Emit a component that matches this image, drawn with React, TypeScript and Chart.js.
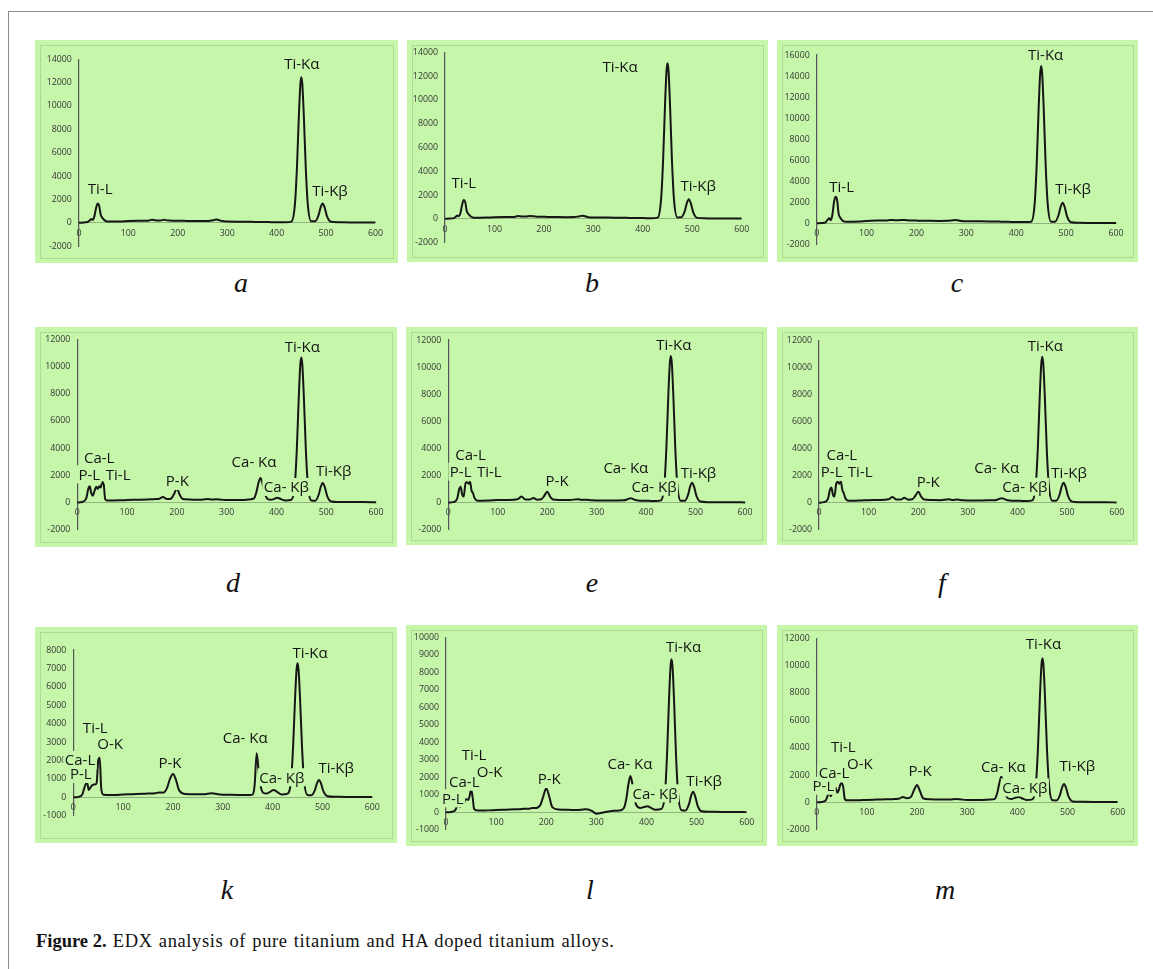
import React, { useEffect, useRef } from "react";
import { Chart, registerables } from "chart.js";
Chart.register(...registerables);

// Energy channel of every sample (shared by all nine spectra)
const channels = [
  0, 10, 18, 22, 25, 28, 31, 35, 38, 41, 44, 47, 50, 53, 56, 60, 70,
  85, 100, 120, 140, 148, 156, 165, 172, 180, 188, 194, 200, 206, 212, 225, 245, 262, 270, 278, 290, 300, 330, 345,
  355, 360, 364, 368, 372, 376, 381, 388, 395, 402, 409, 418, 430,
  437, 441, 445, 448, 450, 452, 455, 459, 463, 470, 478, 485, 489, 493, 497, 502, 510, 525, 550, 575, 600,
];

const countsA = [
  0, 30, 80, 200, 320, 250, 500, 1300, 1650, 1450, 700, 450, 300, 180, 120, 100, 100,
  110, 150, 170, 180, 260, 200, 200, 250, 200, 180, 170, 170, 160, 160, 150, 140, 150, 200, 280, 140, 110, 90, 80,
  70, 70, 70, 70, 60, 60, 60, 50, 50, 50, 40, 40, 100,
  1590, 4630, 9170, 11860, 12450, 11860, 9170, 4630, 1590, 120, 130, 680, 1320, 1650, 1320, 540, 80, 40, 30, 30, 20,
];
const countsB = [
  0, 20, 60, 180, 270, 220, 450, 1250, 1590, 1400, 650, 420, 280, 170, 110, 90, 90,
  100, 130, 150, 160, 230, 190, 200, 240, 210, 180, 170, 170, 160, 160, 150, 140, 150, 200, 260, 140, 110, 100, 90,
  80, 80, 80, 80, 70, 70, 70, 60, 60, 60, 50, 50, 100,
  1660, 4870, 9640, 12460, 13086, 12460, 9640, 4870, 1660, 120, 130, 670, 1320, 1646, 1320, 540, 80, 40, 30, 30, 20,
];
const countsC = [
  0, 30, 100, 350, 475, 300, 700, 2100, 2530, 2200, 900, 550, 350, 220, 170, 150, 160,
  180, 230, 260, 280, 330, 300, 300, 330, 300, 280, 270, 260, 250, 250, 240, 230, 240, 280, 330, 220, 200, 190, 180,
  170, 170, 170, 160, 160, 150, 150, 140, 130, 130, 120, 120, 160,
  1900, 5560, 11020, 14230, 14952, 14230, 11020, 5560, 1900, 150, 160, 820, 1570, 1960, 1570, 640, 100, 50, 40, 30, 30,
];
const countsD = [
  0, 40, 300, 1000, 1193, 700, 500, 900, 1150, 1000, 1200, 1100, 1500, 1350, 250, 150, 150,
  160, 180, 200, 220, 230, 250, 280, 400, 250, 280, 600, 1024, 550, 250, 220, 200, 250, 220, 230, 200, 180, 180, 220,
  300, 800, 1450, 1800, 1400, 750, 300, 200, 250, 350, 250, 150, 200,
  1350, 3960, 7850, 10140, 10656, 10140, 7850, 3960, 1350, 150, 130, 590, 1150, 1434, 1150, 470, 80, 40, 30, 30, 20,
];
const countsE = [
  0, 40, 300, 1000, 1181, 600, 450, 1450, 1500, 1400, 1550, 900, 700, 350, 200, 150, 150,
  170, 190, 200, 250, 450, 230, 230, 350, 220, 250, 500, 812, 450, 230, 200, 190, 260, 200, 220, 180, 170, 170, 170,
  180, 220, 280, 330, 300, 230, 180, 150, 140, 150, 130, 120, 170,
  1375, 4030, 7980, 10300, 10826, 10300, 7980, 4030, 1375, 150, 140, 600, 1180, 1476, 1180, 480, 80, 40, 30, 30, 20,
];
const countsF = [
  0, 40, 280, 950, 1130, 600, 450, 1450, 1550, 1400, 1568, 950, 700, 350, 200, 150, 150,
  170, 190, 200, 250, 420, 230, 230, 360, 220, 250, 500, 815, 450, 230, 200, 190, 250, 200, 230, 180, 170, 170, 180,
  180, 230, 290, 330, 300, 230, 180, 150, 140, 150, 130, 120, 170,
  1370, 4020, 7970, 10300, 10815, 10300, 7970, 4020, 1370, 150, 140, 610, 1185, 1481, 1185, 480, 80, 40, 30, 30, 20,
];
const countsK = [
  0, 20, 150, 500, 720, 761, 400, 550, 650, 700, 700, 800, 2000, 2150, 500, 150, 120,
  130, 150, 170, 190, 200, 210, 220, 260, 250, 500, 1000, 1266, 950, 400, 180, 160, 160, 190, 220, 160, 140, 130, 120,
  120, 150, 700, 2391, 1400, 600, 250, 200, 300, 397, 300, 150, 200,
  925, 2710, 5370, 6930, 7283, 6930, 5370, 2710, 925, 120, 110, 400, 760, 940, 760, 320, 60, 30, 20, 20, 10,
];
const countsL = [
  0, 20, 100, 350, 550, 300, 600, 450, 700, 750, 700, 900, 1314, 900, 200, 120, 100,
  110, 130, 150, 170, 180, 200, 200, 250, 250, 400, 900, 1371, 900, 300, 160, 140, 130, 150, 180, 100, -80, 80, 100,
  250, 800, 1600, 2074, 1600, 800, 350, 250, 300, 350, 250, 150, 200,
  1110, 3250, 6440, 8320, 8743, 8320, 6440, 3250, 1110, 120, 110, 480, 940, 1177, 940, 380, 60, 30, 20, 20, 10,
];
const countsM = [
  0, 30, 150, 500, 776, 450, 700, 1000, 1050, 700, 900, 1300, 1390, 1100, 250, 150, 150,
  160, 180, 200, 220, 230, 250, 280, 400, 300, 400, 900, 1266, 800, 300, 220, 200, 200, 220, 250, 200, 180, 180, 200,
  250, 700, 1400, 1874, 1450, 700, 300, 250, 330, 400, 300, 180, 220,
  1340, 3920, 7770, 10030, 10538, 10030, 7770, 3920, 1340, 150, 140, 550, 1070, 1339, 1070, 430, 70, 40, 30, 30, 20,
];

// Peak labels, anchored in data coordinates (channel, counts); drawn in list order
const labelsA = [
  { t: "Ti-Kα", x: 451, y: 13646 }, { t: "Ti-L", x: 43, y: 2934 }, { t: "Ti-Kβ", x: 508, y: 2730 },
];
const labelsB = [
  { t: "Ti-Kα", x: 354, y: 12757 }, { t: "Ti-L", x: 38, y: 3012 }, { t: "Ti-Kβ", x: 512, y: 2823 },
];
const labelsC = [
  { t: "Ti-Kα", x: 459, y: 16000 }, { t: "Ti-L", x: 50, y: 3479 }, { t: "Ti-Kβ", x: 514, y: 3327 },
];
const labelsD = [
  { t: "Ti-Kα", x: 452, y: 11438 }, { t: "Ca-L", x: 44, y: 3337 }, { t: "P-L", x: 24, y: 2071 },
  { t: "Ti-L", x: 82, y: 2071 }, { t: "P-K", x: 201, y: 1581 }, { t: "Ca- Kα", x: 355, y: 2971 },
  { t: "Ca- Kβ", x: 420, y: 1142 }, { t: "Ti-Kβ", x: 515, y: 2312 },
];
const labelsE = [
  { t: "Ti-Kα", x: 456, y: 11638 }, { t: "Ca-L", x: 45, y: 3520 }, { t: "P-L", x: 25, y: 2288 },
  { t: "Ti-L", x: 83, y: 2288 }, { t: "P-K", x: 220, y: 1601 }, { t: "Ca- Kα", x: 359, y: 2612 },
  { t: "Ca- Kβ", x: 416, y: 1181 }, { t: "Ti-Kβ", x: 506, y: 2214 },
];
const labelsF = [
  { t: "Ti-Kα", x: 456, y: 11607 }, { t: "Ca-L", x: 46, y: 3533 }, { t: "P-L", x: 25.5, y: 2296 },
  { t: "Ti-L", x: 83, y: 2296 }, { t: "P-K", x: 220, y: 1556 }, { t: "Ca- Kα", x: 358, y: 2622 },
  { t: "Ca- Kβ", x: 415, y: 1185 }, { t: "Ti-Kβ", x: 504, y: 2222 },
];
const labelsK = [
  { t: "Ti-Kα", x: 475, y: 7859 }, { t: "Ti-L", x: 44, y: 3804 }, { t: "Ca-L", x: 13.5, y: 2027 },
  { t: "P-L", x: 15, y: 1266 }, { t: "O-K", x: 74, y: 2897 }, { t: "P-K", x: 194, y: 1880 },
  { t: "Ca- Kα", x: 345, y: 3261 }, { t: "Ca- Kβ", x: 418.5, y: 1087 }, { t: "Ti-Kβ", x: 527.5, y: 1630 },
];
const labelsL = [
  { t: "Ti-Kα", x: 474, y: 9463 }, { t: "Ti-L", x: 56, y: 3274 }, { t: "P-L", x: 13.4, y: 800 },
  { t: "Ca-L", x: 36.5, y: 1749 }, { t: "O-K", x: 87, y: 2320 }, { t: "P-K", x: 206, y: 1903 },
  { t: "Ca- Kα", x: 367, y: 2760 }, { t: "Ca- Kβ", x: 417, y: 1086 }, { t: "Ti-Kβ", x: 515, y: 1806 },
];
const labelsM = [
  { t: "Ti-Kα", x: 452, y: 11584 }, { t: "Ti-L", x: 53, y: 4069 }, { t: "P-L", x: 13.3, y: 1215 },
  { t: "Ca-L", x: 34.5, y: 2166 }, { t: "O-K", x: 86, y: 2803 }, { t: "P-K", x: 206, y: 2313 },
  { t: "Ca- Kα", x: 372, y: 2605 }, { t: "Ca- Kβ", x: 415, y: 1098 }, { t: "Ti-Kβ", x: 519.5, y: 2656 },
];

const xTickStep = 100;
const xMin = 0;
const xMax = 600;

const GREEN = "#c5f6aa";
const INNER = "#a9dc90";
const FONT = '"Open Sans", "DejaVu Sans", sans-serif';

type Panel = {
  letter: string;
  box: [number, number, number, number];
  plot: [number, number, number, number];
  yMin: number; yMax: number; yStep: number;
  counts: number[];
  labels: { t: string; x: number; y: number }[];
  lx: number; lby: number;
};

const panels: Panel[] = [
  { letter: "a", box: [35, 40, 363, 223], plot: [78.9, 59.2, 375.5, 246.1], yMin: -2000, yMax: 14000, yStep: 2000, counts: countsA, labels: labelsA, lx: 241, lby: 292 },
  { letter: "b", box: [407, 40, 361, 222], plot: [445, 48.3, 741.7, 242.6], yMin: -2000, yMax: 14000, yStep: 2000, counts: countsB, labels: labelsB, lx: 592, lby: 292 },
  { letter: "c", box: [777, 40, 361, 222], plot: [816.7, 55, 1116, 244.4], yMin: -2000, yMax: 16000, yStep: 2000, counts: countsC, labels: labelsC, lx: 957, lby: 292 },
  { letter: "d", box: [35, 327, 362, 220], plot: [77.3, 338.3, 376, 529.7], yMin: -2000, yMax: 12000, yStep: 2000, counts: countsD, labels: labelsD, lx: 233, lby: 592 },
  { letter: "e", box: [406, 327, 361, 218], plot: [448.3, 340, 745, 529.8], yMin: -2000, yMax: 12000, yStep: 2000, counts: countsE, labels: labelsE, lx: 592, lby: 592 },
  { letter: "f", box: [777, 327, 361, 218], plot: [819, 340.7, 1116.7, 529.7], yMin: -2000, yMax: 12000, yStep: 2000, counts: countsF, labels: labelsF, lx: 942, lby: 592 },
  { letter: "k", box: [35, 627, 362, 216], plot: [73.3, 650, 372.3, 815.7], yMin: -1000, yMax: 8000, yStep: 1000, counts: countsK, labels: labelsK, lx: 227, lby: 899 },
  { letter: "l", box: [406, 625, 361, 221], plot: [446, 637.3, 746.7, 829.8], yMin: -1000, yMax: 10000, yStep: 1000, counts: countsL, labels: labelsL, lx: 590, lby: 899 },
  { letter: "m", box: [777, 625, 361, 221], plot: [816.7, 638.3, 1117.7, 829.7], yMin: -2000, yMax: 12000, yStep: 2000, counts: countsM, labels: labelsM, lx: 945, lby: 899 },
];

const LABEL_SIZE = 15;

const peakLabelPlugin = {
  id: "peakLabels",
  afterDraw(chart: any, _args: any, opts: any) {
    const { ctx, scales } = chart;
    const items = opts.items || [];
    ctx.save();
    ctx.font = `${LABEL_SIZE}px ${FONT}`;
    ctx.textAlign = "center";
    ctx.textBaseline = "alphabetic";
    for (const it of items) {
      const px = scales.x.getPixelForValue(it.x);
      const py = scales.y.getPixelForValue(it.y);
      const w = ctx.measureText(it.t).width;
      ctx.fillStyle = GREEN;
      ctx.fillRect(px - w / 2 - 1.5, py - LABEL_SIZE * 0.6, w + 3, LABEL_SIZE * 1.2);
      ctx.fillStyle = "#141414";
      ctx.fillText(it.t, px, py + LABEL_SIZE * 0.36);
    }
    ctx.restore();
  },
};

function SpectrumPanel({ p }: { p: Panel }) {
  const ref = useRef<HTMLCanvasElement>(null);
  const [bx, by, bw, bh] = p.box;
  const [pl, pt, pr, pb] = p.plot;
  useEffect(() => {
    const yw = pl - bx;
    const chart = new Chart(ref.current as HTMLCanvasElement, {
      type: "line",
      data: {
        datasets: [
          {
            data: channels.map((x, i) => ({ x, y: p.counts[i] })),
            borderColor: "#161616",
            borderWidth: 2,
            pointRadius: 0,
            fill: false,
            tension: 0.4,
            cubicInterpolationMode: "monotone",
          },
        ],
      },
      options: {
        animation: false,
        responsive: false,
        devicePixelRatio: 1,
        events: [],
        layout: { padding: { left: 0, top: pt - by, right: bx + bw - pr, bottom: by + bh - pb } },
        plugins: {
          legend: { display: false },
          tooltip: { enabled: false },
          peakLabels: { items: p.labels },
        } as any,
        scales: {
          x: {
            type: "linear",
            min: xMin,
            max: xMax,
            position: { y: 0 } as any,
            afterFit: (s: any) => { s.height = 0; },
            grid: { display: false, drawTicks: false },
            border: { display: true, color: "rgba(105,125,95,0.55)", width: 1 },
            ticks: {
              stepSize: xTickStep,
              autoSkip: false,
              maxRotation: 0,
              padding: 5,
              color: "#363636",
              font: { family: FONT, size: 8.8 },
              callback: (v: any) => String(v),
            },
          },
          y: {
            type: "linear",
            min: p.yMin,
            max: p.yMax,
            position: "left",
            afterFit: (s: any) => { s.width = yw; },
            grid: { display: false, drawTicks: false },
            border: { display: true, color: "#555", width: 1.2 },
            ticks: {
              stepSize: p.yStep,
              autoSkip: false,
              padding: 7,
              color: "#363636",
              font: { family: FONT, size: 8.8 },
              callback: (v: any) => String(v),
            },
          },
        },
      },
      plugins: [peakLabelPlugin],
    });
    return () => chart.destroy();
  }, []);
  return (
    <>
      <div style={{ position: "absolute", left: bx, top: by, width: bw, height: bh, background: GREEN }}>
        <div style={{ position: "absolute", left: 5, top: 5, right: 4, bottom: 4, border: `1px solid ${INNER}` }} />
        <canvas ref={ref} width={bw} height={bh} style={{ position: "absolute", left: 0, top: 0, width: bw, height: bh }} />
      </div>
      <div
        style={{
          position: "absolute", left: p.lx - 30, width: 60, top: p.lby - 0.8375 * 28,
          fontFamily: '"Liberation Serif", "Times New Roman", serif', fontStyle: "italic",
          fontSize: 28, lineHeight: "28px", textAlign: "center", color: "#111",
        }}
      >
        {p.letter}
      </div>
    </>
  );
}

export default function App() {
  return (
    <div style={{ position: "absolute", left: 0, top: 0, width: 1153, height: 969, background: "#fff", overflow: "hidden" }}>
      <div style={{ position: "absolute", left: 8, top: 11, width: 1145, height: 0, borderTop: "1.5px solid #8c8c8c" }} />
      <div style={{ position: "absolute", left: 8, top: 11, width: 0, height: 958, borderLeft: "1.5px solid #8c8c8c" }} />
      {panels.map((p) => <SpectrumPanel key={p.letter} p={p} />)}
      <div
        style={{
          position: "absolute", left: 36, top: 947.3 - 0.8375 * 18.5, whiteSpace: "nowrap",
          fontFamily: '"Liberation Serif", "Times New Roman", serif', fontSize: 18.5, lineHeight: "18.5px", color: "#111",
        }}
      >
        <span style={{ fontWeight: "bold" }}>Figure 2.</span>
        <span style={{ letterSpacing: 0.6, wordSpacing: 1 }}> EDX analysis of pure titanium and HA doped titanium alloys.</span>
      </div>
    </div>
  );
}
